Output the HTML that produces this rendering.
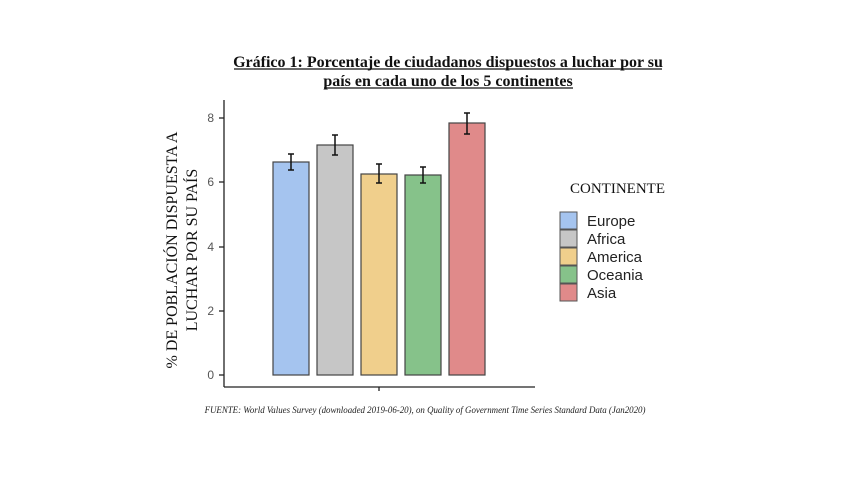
<!DOCTYPE html>
<html><head><meta charset="utf-8"><style>
body{margin:0;background:#fff;width:848px;height:477px;overflow:hidden}
</style></head><body>
<svg width="848" height="477" xmlns="http://www.w3.org/2000/svg">
<g font-family="Liberation Serif, serif" font-weight="bold" font-size="16" text-anchor="middle" fill="#111">
<text x="448" y="67">Gráfico 1: Porcentaje de ciudadanos dispuestos a luchar por su</text>
<text x="448" y="86">país en cada uno de los 5 continentes</text>
</g>
<line x1="234" y1="69" x2="662" y2="69" stroke="#111" stroke-width="1.2"/>
<line x1="324" y1="88" x2="573" y2="88" stroke="#111" stroke-width="1.2"/>
<g stroke="#222" stroke-width="1.3" fill="none">
<line x1="224" y1="100" x2="224" y2="387"/>
<line x1="224" y1="387" x2="535" y2="387"/>
<line x1="379" y1="387" x2="379" y2="391"/>
<line x1="219" y1="375" x2="224" y2="375"/><line x1="219" y1="311" x2="224" y2="311"/>
<line x1="219" y1="247" x2="224" y2="247"/><line x1="219" y1="182" x2="224" y2="182"/>
<line x1="219" y1="118" x2="224" y2="118"/>
</g>
<g font-family="Liberation Sans, sans-serif" font-size="12" fill="#555" text-anchor="end">
<text x="214" y="379">0</text><text x="214" y="315">2</text><text x="214" y="251">4</text><text x="214" y="186">6</text><text x="214" y="122">8</text>
</g>
<g font-family="Liberation Serif, serif" font-size="16" fill="#111" text-anchor="middle">
<text transform="translate(177,250) rotate(-90)">% DE POBLACIÓN DISPUESTA  A</text>
<text transform="translate(197,250) rotate(-90)">LUCHAR  POR SU PAÍS</text>
</g>
<g stroke="#444" stroke-width="1.2">
<rect x="273" y="162" width="36" height="213" fill="#a5c4ef"/>
<rect x="317" y="145" width="36" height="230" fill="#c6c6c6"/>
<rect x="361" y="174" width="36" height="201" fill="#f0cf8c"/>
<rect x="405" y="175" width="36" height="200" fill="#86c28a"/>
<rect x="449" y="123" width="36" height="252" fill="#e08a8a"/>
</g>
<g stroke="#111" stroke-width="1.5">
<path d="M291 154V170M288 154H294M288 170H294"/>
<path d="M335 135V155M332 135H338M332 155H338"/>
<path d="M379 164V183M376 164H382M376 183H382"/>
<path d="M423 167V183M420 167H426M420 183H426"/>
<path d="M467 113V134M464 113H470M464 134H470"/>
</g>
<text x="570" y="193" font-family="Liberation Serif, serif" font-size="15" fill="#111">CONTINENTE</text>
<g stroke="#555" stroke-width="1">
<rect x="560" y="212" width="17" height="17" fill="#a5c4ef"/>
<rect x="560" y="230" width="17" height="17" fill="#c6c6c6"/>
<rect x="560" y="248" width="17" height="17" fill="#f0cf8c"/>
<rect x="560" y="266" width="17" height="17" fill="#86c28a"/>
<rect x="560" y="284" width="17" height="17" fill="#e08a8a"/>
</g>
<g font-family="Liberation Sans, sans-serif" font-size="15" fill="#222">
<text x="587" y="226">Europe</text><text x="587" y="244">Africa</text><text x="587" y="262">America</text><text x="587" y="280">Oceania</text><text x="587" y="298">Asia</text>
</g>
<text x="425" y="413" text-anchor="middle" font-family="Liberation Serif, serif" font-style="italic" font-size="8.9" fill="#222">FUENTE: World Values Survey (downloaded 2019-06-20), on Quality of Government Time Series Standard Data (Jan2020)</text>
</svg>
</body></html>
